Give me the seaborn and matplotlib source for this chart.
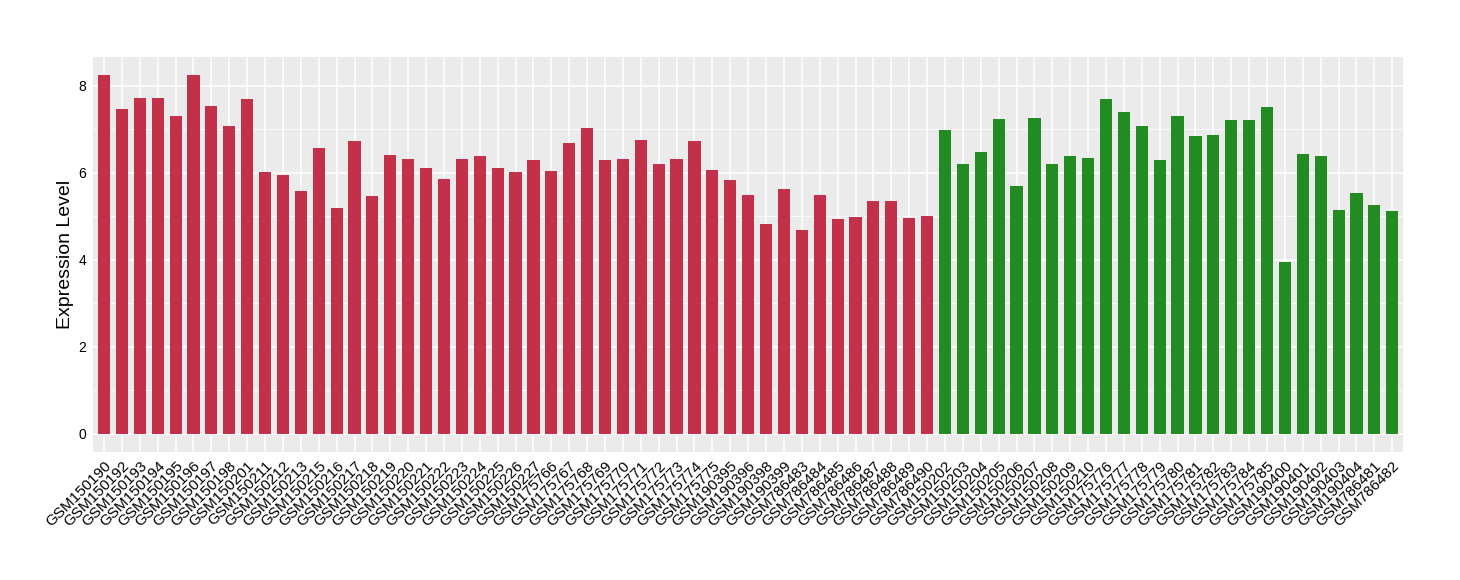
import matplotlib
matplotlib.use("Agg")
import matplotlib.pyplot as plt
import seaborn as sns
import pandas as pd
from matplotlib.ticker import MultipleLocator

red_samples = ["GSM150190", "GSM150192", "GSM150193", "GSM150194", "GSM150195", "GSM150196",
               "GSM150197", "GSM150198", "GSM150201", "GSM150211", "GSM150212", "GSM150213",
               "GSM150215", "GSM150216", "GSM150217", "GSM150218", "GSM150219", "GSM150220",
               "GSM150221", "GSM150222", "GSM150223", "GSM150224", "GSM150225", "GSM150226",
               "GSM150227", "GSM175766", "GSM175767", "GSM175768", "GSM175769", "GSM175770",
               "GSM175771", "GSM175772", "GSM175773", "GSM175774", "GSM175775", "GSM190395",
               "GSM190396", "GSM190398", "GSM190399", "GSM786483", "GSM786484", "GSM786485",
               "GSM786486", "GSM786487", "GSM786488", "GSM786489", "GSM786490"]
red_values = [8.25, 7.46, 7.72, 7.72, 7.30, 8.25, 7.53, 7.07, 7.69, 6.01, 5.95, 5.58,
              6.57, 5.19, 6.73, 5.46, 6.41, 6.32, 6.11, 5.86, 6.32, 6.38, 6.11, 6.01,
              6.29, 6.03, 6.68, 7.03, 6.29, 6.32, 6.75, 6.20, 6.32, 6.73, 6.06, 5.83,
              5.48, 4.82, 5.62, 4.68, 5.48, 4.93, 4.98, 5.35, 5.35, 4.96, 5.00]

green_samples = ["GSM150202", "GSM150203", "GSM150204", "GSM150205", "GSM150206", "GSM150207",
                 "GSM150208", "GSM150209", "GSM150210", "GSM175776", "GSM175777", "GSM175778",
                 "GSM175779", "GSM175780", "GSM175781", "GSM175782", "GSM175783", "GSM175784",
                 "GSM175785", "GSM190400", "GSM190401", "GSM190402", "GSM190403", "GSM190404",
                 "GSM786481", "GSM786482"]
green_values = [6.98, 6.20, 6.48, 7.23, 5.69, 7.25, 6.20, 6.38, 6.34, 7.69, 7.39, 7.07,
                6.29, 7.30, 6.84, 6.86, 7.21, 7.21, 7.51, 3.95, 6.43, 6.38, 5.14, 5.53,
                5.25, 5.12]

y_ticks = [0, 2, 4, 6, 8]
y_label = "Expression Level"

df = pd.DataFrame({
    "sample": red_samples + green_samples,
    "value": red_values + green_values,
    "group": ["red"] * len(red_samples) + ["green"] * len(green_samples),
})

sns.set_theme(style="darkgrid")
plt.rcParams["font.family"] = ["Liberation Sans", "DejaVu Sans"]

fig = plt.figure(figsize=(14.6, 5.8), dpi=100)
ax = fig.add_axes([93.3 / 1460, 1 - 451.7 / 580, (1403 - 93.3) / 1460, (451.7 - 57) / 580])
ax.set_facecolor("#EBEBEB")

sns.barplot(data=df, x="sample", y="value", hue="group",
            palette={"red": "#C33049", "green": "#228B22"},
            dodge=False, width=0.68, legend=False, ax=ax, saturation=1, linewidth=0)

n = len(df)
ax.set_xlim(-0.6, n - 1 + 0.6)
ax.set_ylim(-0.41, 8.66)
ax.set_yticks(y_ticks)
ax.yaxis.set_minor_locator(MultipleLocator(1))
ax.set_axisbelow(True)
ax.grid(which="major", color="white", linewidth=1.1)
ax.grid(which="minor", axis="y", color="white", linewidth=0.55)
for s in ax.spines.values():
    s.set_visible(False)

ax.tick_params(axis="both", which="major", length=3, width=0.8, color="#333333",
               labelcolor="black", pad=2)
ax.tick_params(axis="y", which="major", labelsize=10)
ax.tick_params(axis="x", which="major", labelsize=11)
ax.tick_params(axis="y", which="minor", length=0)
plt.setp(ax.get_xticklabels(), rotation=45, ha="right", rotation_mode="anchor")

ax.set_xlabel("")
ax.set_ylabel(y_label, fontsize=14, color="black", labelpad=3)

fig.savefig("out.png", dpi=100, facecolor="white")
